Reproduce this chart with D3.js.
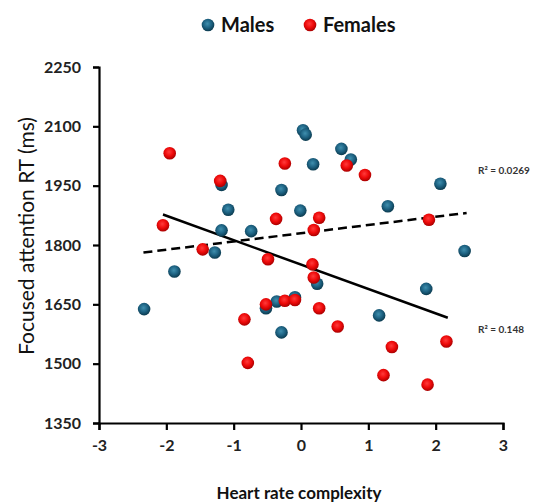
<!DOCTYPE html>
<html>
<head>
<meta charset="utf-8">
<script src="https://cdn.jsdelivr.net/npm/d3@7"></script>
<style>
  body { margin: 0; background: #fff; }
  svg { font-family: Lato, "Open Sans", sans-serif; }
</style>
</head>
<body>
<svg width="550" height="502"></svg>
<script>

// Males (blue)
var maleX = [-2.33, -1.88, -1.28, -1.18, -1.18, -1.08, -0.74, -0.52, -0.36, -0.29, -0.29, -0.09,
  -0.01, 0.03, 0.07, 0.18, 0.24, 0.60, 0.74, 1.16, 1.29, 1.86, 2.07, 2.43];
var maleY = [1638, 1733, 1781, 1837, 1952, 1889, 1835, 1640, 1657, 1579, 1939, 1668,
  1887, 2090, 2079, 2004, 1702, 2043, 2016, 1622, 1898, 1689, 1955, 1785];

// Females (red)
var femaleX = [-2.05, -1.95, -1.46, -1.20, -0.84, -0.79, -0.52, -0.49, -0.37, -0.24, -0.24, -0.09,
  0.17, 0.19, 0.19, 0.27, 0.27, 0.545, 0.68, 0.95, 1.225, 1.35, 1.88, 1.90, 2.16];
var femaleY = [1850, 2032, 1789, 1962, 1612, 1502, 1650, 1764, 1866, 2006, 1659, 1661,
  1751, 1718, 1838, 1869, 1640, 1594, 2001, 1977, 1471, 1542, 1447, 1864, 1556];

// trend lines (start, end)
var maleTrendX = [-2.34, 2.46];
var maleTrendY = [1781, 1881];
var femaleTrendX = [-2.05, 2.18];
var femaleTrendY = [1877, 1616];

var xTicks = [-3, -2, -1, 0, 1, 2, 3];
var yTicks = [1350, 1500, 1650, 1800, 1950, 2100, 2250];

var svg = d3.select("svg");

var x = d3.scaleLinear().domain([-3, 3]).range([99, 503]);
var y = d3.scaleLinear().domain([1350, 2250]).range([423, 67]);

// sphere-like gradients
var defs = svg.append("defs");
function ball(id, light, mid, dark) {
  var g = defs.append("radialGradient")
    .attr("id", id)
    .attr("cx", "45%").attr("cy", "40%").attr("r", "60%");
  g.append("stop").attr("offset", "0%").attr("stop-color", light);
  g.append("stop").attr("offset", "55%").attr("stop-color", mid);
  g.append("stop").attr("offset", "100%").attr("stop-color", dark);
}
ball("blueBall", "#3f8fae", "#1d6282", "#0b3a4e");
ball("redBall", "#ff3b3b", "#ee0a0a", "#a80000");

// axes
var plain = function(d) { return String(d); };
var yAxis = d3.axisLeft(y).tickValues(yTicks).tickFormat(plain).tickSize(6).tickPadding(12);
var xAxis = d3.axisBottom(x).tickValues(xTicks).tickFormat(plain).tickSize(7).tickPadding(10);

var gy = svg.append("g")
  .attr("transform", "translate(" + x(-3) + ",0)")
  .call(yAxis);
var gx = svg.append("g")
  .attr("transform", "translate(0," + y(1350) + ")")
  .call(xAxis);

[gx, gy].forEach(function(g) {
  g.select(".domain").attr("stroke", "#000").attr("stroke-width", 2.2);
  g.selectAll(".tick line").attr("stroke", "#000").attr("stroke-width", 2.2);
  g.selectAll(".tick text")
    .attr("fill", "#222")
    .style("font-size", "16px")
    .style("font-weight", "bold")
    .style("font-family", "Lato, sans-serif");
});

// trend lines
var line = d3.line()
  .x(function(d) { return x(d[0]); })
  .y(function(d) { return y(d[1]); });

svg.append("path")
  .datum(d3.zip(maleTrendX, maleTrendY))
  .attr("d", line)
  .attr("fill", "none")
  .attr("stroke", "#000")
  .attr("stroke-width", 2.5)
  .attr("stroke-dasharray", "9,5");

svg.append("path")
  .datum(d3.zip(femaleTrendX, femaleTrendY))
  .attr("d", line)
  .attr("fill", "none")
  .attr("stroke", "#000")
  .attr("stroke-width", 2.5);

// points
var males = d3.zip(maleX, maleY);
var females = d3.zip(femaleX, femaleY);

svg.append("g")
  .selectAll("circle")
  .data(males)
  .enter().append("circle")
  .attr("cx", function(d) { return x(d[0]); })
  .attr("cy", function(d) { return y(d[1]); })
  .attr("r", 6.3)
  .attr("fill", "url(#blueBall)");

svg.append("g")
  .selectAll("circle")
  .data(females)
  .enter().append("circle")
  .attr("cx", function(d) { return x(d[0]); })
  .attr("cy", function(d) { return y(d[1]); })
  .attr("r", 6.3)
  .attr("fill", "url(#redBall)");

// R squared labels
var r2 = svg.append("g")
  .style("font-size", "10px")
  .style("font-family", "Lato, sans-serif")
  .style("font-weight", "bold")
  .attr("fill", "#333");
r2.append("text").attr("x", 478).attr("y", 174).text("R\u00b2 = 0.0269");
r2.append("text").attr("x", 478).attr("y", 333).text("R\u00b2 = 0.148");

// legend
var legend = svg.append("g");
var legendItems = [
  {name: "Males", fill: "url(#blueBall)", cx: 208, tx: 221},
  {name: "Females", fill: "url(#redBall)", cx: 310, tx: 323}
];
legend.selectAll("circle")
  .data(legendItems)
  .enter().append("circle")
  .attr("cx", function(d) { return d.cx; })
  .attr("cy", 25)
  .attr("r", 6.3)
  .attr("fill", function(d) { return d.fill; });
legend.selectAll("text")
  .data(legendItems)
  .enter().append("text")
  .attr("x", function(d) { return d.tx; })
  .attr("y", 32)
  .style("font-size", "20px")
  .style("font-weight", "bold")
  .attr("fill", "#111")
  .text(function(d) { return d.name; });

// axis titles
svg.append("text")
  .attr("x", 299)
  .attr("y", 499)
  .attr("text-anchor", "middle")
  .style("font-size", "17px")
  .style("font-weight", "bold")
  .attr("fill", "#111")
  .text("Heart rate complexity");

svg.append("text")
  .attr("transform", "translate(34,236) rotate(-90)")
  .attr("text-anchor", "middle")
  .style("font-size", "21px")
  .attr("fill", "#111")
  .text("Focused attention RT (ms)");

</script>
</body>
</html>
